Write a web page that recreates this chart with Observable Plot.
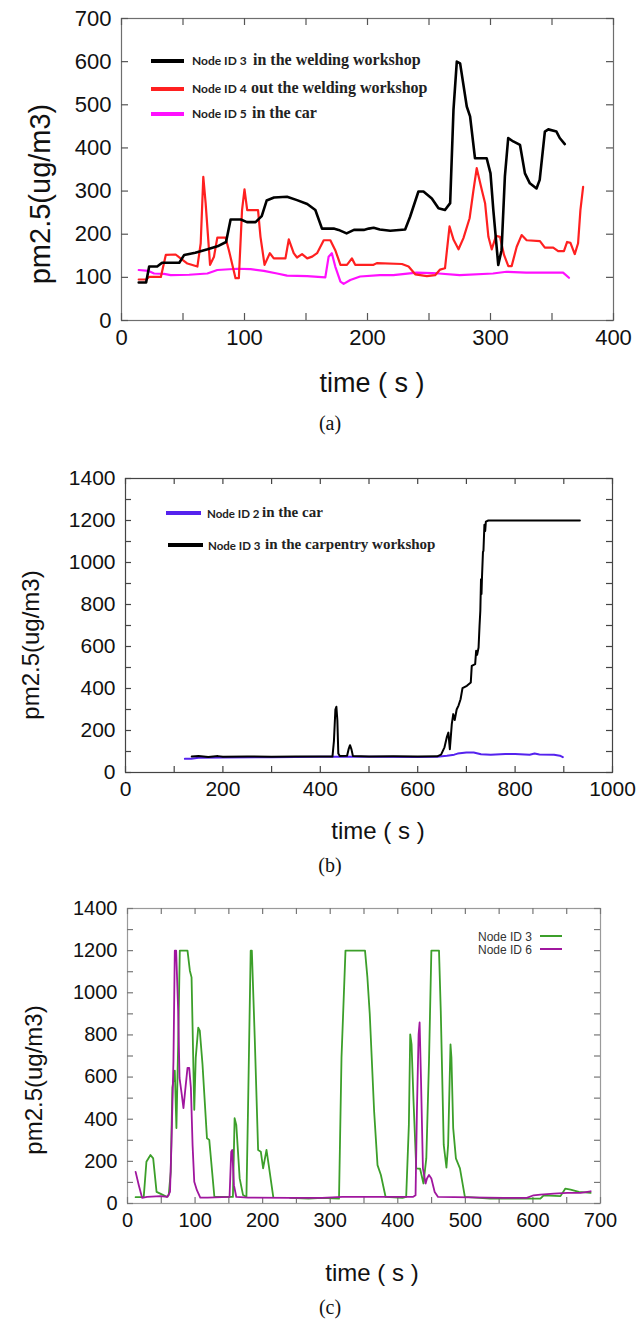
<!DOCTYPE html>
<html><head><meta charset="utf-8">
<script src="https://cdn.jsdelivr.net/npm/d3@7"></script>
<script src="https://cdn.jsdelivr.net/npm/@observablehq/plot@0.6"></script>
<style>
body{margin:0;background:#fff;}
#root{position:relative;width:641px;height:1323px;overflow:hidden;font-family:"Liberation Sans",Arial,sans-serif;color:#111;}
.panel{position:absolute;left:0;}
.lbl{position:absolute;white-space:nowrap;transform:translate(-50%,-50%);}
.ylbl{transform:translate(-50%,-50%) rotate(-90deg);}
.cap{font-family:"Liberation Serif",serif;font-size:20px;}
.sw{position:absolute;}
.lg{position:absolute;white-space:nowrap;transform:translateY(-50%);line-height:1;}
.nid{font-family:Lato,"Open Sans",sans-serif;font-weight:700;color:#222;}
.desc{font-family:"Liberation Serif",serif;font-weight:700;color:#222;}
</style></head>
<body><div id="root"></div>
<script>
// ---------- Panel (a): welding workshop ----------
const aNode3 = [[14,88],[20,88],[22.5,125],[29,125],[33,134],[47,134],[51,152],[60,157],[70,165],[78,172],[85,182],[88.7,234],[97,234],[102,228],[109,228],[114,242],[118,278],[124,285],[134.6,287],[142.7,279],[151,270],[157.6,256],[163,213],[172.5,213],[176.5,210],[183,202],[189,210],[197,210],[201,213],[205,215],[210,211],[218.5,208],[230.6,211],[234.7,241],[241.4,299],[245.5,299],[252.3,283],[257.7,260],[263,256],[267.2,272],[269.9,488],[272.6,600],[275.3,596],[280.7,496],[283.4,473],[287.4,376],[296.9,376],[300,341],[302.3,256],[306.3,129],[309,163],[311.7,334],[314.4,423],[318.5,415],[324,407],[328,341],[332,318],[337.4,306],[340,326],[344.2,438],[347,443],[353.6,438],[356.3,423],[360.4,409]];
const aNode4 = [[14,95],[20,95],[22.5,101],[32,101],[36,152],[44,153],[48,144],[53.6,132],[61.7,125],[64.4,179],[66.5,333],[68.4,272],[72,129],[75.2,148],[77.9,192],[84.6,192],[87.3,163],[92.7,98],[95.4,98],[98,256],[100,304],[102.2,256],[111,256],[113,194],[116.3,129],[120.6,156],[123.8,144],[133.3,144],[136,188],[140,156],[142.7,146],[146.8,154],[151,144],[155,148],[159,156],[164.4,186],[169.8,186],[173.8,163],[178,129],[183.3,129],[187.3,144],[190,129],[204.9,129],[207.6,133],[228,131],[233.4,125],[238.8,107],[248.3,103],[255,105],[259,118],[263,121],[266.7,218],[270,187],[274,165],[278,191],[283,237],[286,299],[288.8,353],[293,302],[295.6,272],[298.3,194],[301,165],[304.5,196],[307.7,194],[311,152],[314.5,126],[317.2,126],[321.3,171],[325.3,198],[329.4,186],[340.2,184],[344.2,169],[351,169],[355,161],[359.7,161],[362.3,182],[365,180],[368.5,154],[371.2,179],[373.1,256],[375.3,310]];
const aNode5 = [[14,117],[22,115],[26.5,109],[34.6,108],[40,105],[55,106],[69.8,109],[77.9,117],[94,120],[105,119],[115.7,115],[126.5,109],[134.6,104],[151,103],[165.7,100],[168.4,148],[171,156],[173.8,125],[178,90],[180.6,85],[186,94],[194,102],[210,105],[221,105],[240,111],[258,109],[275,105],[302,109],[313,113],[329,111],[359,111],[363.8,99]];
const aXLabels = [0,100,200,300,400];
const aXTicks = [0,50,100,150,200,250,300,350,400];
const aYLabels = [0,100,200,300,400,500,600,700];

// ---------- Panel (b): carpentry workshop ----------
const bNode2 = [[122,65],[135,66],[150,70],[200,72],[300,73],[400,75],[500,75],[600,74],[640,75],[660,80],[675,85],[682,90],[700,95],[715,95],[730,87],[750,85],[780,88],[800,88],[830,85],[840,90],[850,86],[880,85],[892,80],[898,73]];
const bNode3 = [[136,76],[150,78],[170,74],[190,78],[200,75],[250,76],[300,75],[350,76],[400,76],[425,76],[428,150],[431,300],[433,313],[435,250],[437,90],[440,78],[455,80],[458,110],[461,130],[464,110],[467,78],[500,76],[550,77],[600,76],[640,77],[648,85],[655,120],[660,170],[663,190],[666,111],[670,230],[673,278],[676,250],[680,300],[684,320],[688,349],[692,402],[701,413],[709,429],[711,508],[718,516],[720,580],[722,560],[725,595],[727,700],[728.6,770],[730,920],[731,850],[732,929],[734,1050],[735,1055],[737,1180],[738.6,1150],[740,1195],[745,1200],[933,1200]];
const bXLabels = [0,200,400,600,800,1000];
const bXTicks = [0,100,200,300,400,500,600,700,800,900,1000];
const bYLabels = [0,200,400,600,800,1000,1200,1400];
const bYTicks = [0,100,200,300,400,500,600,700,800,900,1000,1100,1200,1300,1400];

// ---------- Panel (c) ----------
const cNode3 = [[12,30],[24,30],[28,198],[34,230],[38,214],[43,55],[51.5,42],[58,32],[61,40],[64,150],[66.4,550],[70,630],[72.4,358],[75,755],[77.4,1200],[88.8,1200],[92.3,1105],[94.8,1073],[98.8,445],[101,692],[104.7,835],[107,820],[111,660],[117.6,310],[121,302],[128.6,31],[148.5,31],[156,31],[158.5,405],[161,373],[166,119],[171,40],[176,31],[178.3,437],[182.3,1200],[184,1200],[188.3,787],[193.3,254],[197.3,246],[200.7,167],[205.7,254],[209,182],[215.7,31],[228,null],[240.5,27],[268,23],[288,27],[313,23],[316.7,692],[322.6,1200],[351.5,1200],[355,1074],[358.5,900],[365,437],[370,182],[375,135],[382,31],[407,27],[412.4,31],[416.4,373],[418.4,803],[420.4,755],[423.3,485],[427.3,167],[433,165],[438,95],[442.2,214],[446.2,676],[449.7,1200],[461,1200],[463.6,915],[468,278],[472,170],[474.5,278],[478,755],[479.4,692],[482,358],[486,214],[492,167],[499.3,31],[536.5,23],[557,23],[591,23],[611,23],[616,39],[640.8,35],[648,71],[655.7,66],[668,55],[685.5,50]];
const cNode6 = [[12,150],[16.7,87],[21.6,27],[29,31],[49,35],[59,31],[62.9,55],[65,278],[68,676],[70,1200],[72,1200],[75,915],[77,596],[80,525],[82.8,453],[85.3,533],[88.8,644],[91.3,644],[93.8,549],[96.3,278],[98.8,103],[102.7,63],[107.7,28],[118.6,28],[151,31],[153.5,246],[155,254],[157.5,87],[161,31],[178.4,28],[240,27],[288,27],[318,31],[407,31],[422.3,31],[426.3,39],[428.3,437],[430.8,803],[432.3,859],[434.3,596],[437.2,167],[441.2,95],[443.2,119],[446.2,135],[449.7,119],[454.6,55],[459.6,31],[556.4,27],[591,27],[601,39],[611,42],[631,47],[650.7,50],[670.6,50],[685.5,58]];
const cXLabels = [0,100,200,300,400,500,600,700];
const cXTicks = [0,50,100,150,200,250,300,350,400,450,500,550,600,650,700];
const cYLabels = [0,200,400,600,800,1000,1200,1400];
const cYTicks = bYTicks;

const toRows = arr => arr.map(([t, v]) => ({t, v}));

function makePanel(o) {
  const [x0, x1] = o.xDomain, [y0, y1] = o.yDomain;
  const tk = {stroke: o.tick, strokeWidth: 1.2};
  const L = o.tl;
  const marks = [
    Plot.frame({stroke: o.frame, strokeWidth: 1.2}),
    // inward tick marks on all four sides
    Plot.ruleX(o.xTicks, {x: d => d, y1: y0, y2: y0, insetBottom: L, ...tk}),
    Plot.ruleX(o.xTicks, {x: d => d, y1: y1, y2: y1, insetTop: L, ...tk}),
    Plot.ruleY(o.yTicks, {y: d => d, x1: x0, x2: x0, insetLeft: L, ...tk}),
    Plot.ruleY(o.yTicks, {y: d => d, x1: x1, x2: x1, insetRight: L, ...tk}),
    Plot.axisX({anchor: "bottom", ticks: o.xLabels, tickSize: 0, tickPadding: 9, fontSize: o.fs, label: null, fill: "#111", tickFormat: d => String(d)}),
    Plot.axisY({anchor: "left", ticks: o.yLabels, tickSize: 0, tickPadding: 10, fontSize: o.fs, label: null, fill: "#111", tickFormat: d => String(d)}),
    ...o.series.map(s => Plot.line(toRows(s.data), {x: "t", y: "v", stroke: s.color, strokeWidth: s.w, strokeLinejoin: "round"}))
  ];
  const svg = Plot.plot({
    width: 641, height: o.height,
    marginTop: o.m[0], marginRight: o.m[1], marginBottom: o.m[2], marginLeft: o.m[3],
    x: {domain: o.xDomain}, y: {domain: o.yDomain},
    style: {fontFamily: '"Liberation Sans", Arial, sans-serif', background: "transparent", overflow: "visible", color: "#111"},
    marks
  });
  const wrap = document.createElement("div");
  wrap.className = "panel";
  wrap.style.top = o.top + "px";
  wrap.appendChild(svg);
  root.appendChild(wrap);
}

const root = document.getElementById("root");
function addText(html, cls, style) {
  const d = document.createElement("div");
  d.className = cls;
  d.innerHTML = html;
  Object.assign(d.style, style);
  root.appendChild(d);
}
function addSwatch(left, width, cy, h, color) {
  const d = document.createElement("div");
  d.className = "sw";
  Object.assign(d.style, {left: left + "px", width: width + "px", top: (cy - h / 2) + "px", height: h + "px", background: color});
  root.appendChild(d);
}

// Panel a
makePanel({top: 0, height: 400, m: [18, 28, 80, 121], xDomain: [0, 400], yDomain: [0, 700],
  xTicks: aXTicks, xLabels: aXLabels, yTicks: aYLabels, yLabels: aYLabels, frame: "#6e6e6e", tick: "#555", tl: 7, fs: 22,
  series: [
    {data: aNode5, color: "#ff10ff", w: 2.2},
    {data: aNode4, color: "#ff2020", w: 2.2},
    {data: aNode3, color: "#000000", w: 2.6}
  ]});
addText("pm2.5(ug/m3)", "lbl ylbl", {left: "40px", top: "194px", fontSize: "29px"});
addText("time ( s )", "lbl", {left: "372px", top: "383px", fontSize: "27px"});
addText("(a)", "lbl cap", {left: "330px", top: "423px"});
const aLegend = [["Node ID 3", "in the welding workshop", "#000", 61, 253], ["Node ID 4", "out the welding workshop", "#ff2020", 89, 251], ["Node ID 5", "in the car", "#ff10ff", 114, 252]];
aLegend.forEach(([id, desc, col, y, dx]) => {
  addSwatch(151, 33, y, 3.5, col);
  addText(id, "lg nid", {left: "192px", top: y + "px", fontSize: "12px"});
  addText(desc, "lg desc", {left: dx + "px", top: (y - 1) + "px", fontSize: "16px"});
});

// Panel b
makePanel({top: 460, height: 400, m: [18, 29, 88, 125], xDomain: [0, 1000], yDomain: [0, 1400],
  xTicks: bXTicks, xLabels: bXLabels, yTicks: bYTicks, yLabels: bYLabels, frame: "#444", tick: "#444", tl: 6, fs: 21,
  series: [
    {data: bNode2, color: "#5522ee", w: 2},
    {data: bNode3, color: "#000000", w: 2}
  ]});
addText("pm2.5(ug/m3)", "lbl ylbl", {left: "31px", top: "645px", fontSize: "24px"});
addText("time ( s )", "lbl", {left: "378px", top: "831px", fontSize: "24px"});
addText("(b)", "lbl cap", {left: "330px", top: "865px"});
const bLegend = [["Node ID 2", "in the car", "#5522ee", 513, 166, 207, 262], ["Node ID 3", "in the carpentry workshop", "#000", 545, 168, 208, 265]];
bLegend.forEach(([id, desc, col, y, sx, ix, dx]) => {
  addSwatch(sx, 35, y, 4, col);
  addText(id, "lg nid", {left: ix + "px", top: (y + 1) + "px", fontSize: "11.5px"});
  addText(desc, "lg desc", {left: dx + "px", top: (y - 1) + "px", fontSize: "15px"});
});

// Panel c
makePanel({top: 890, height: 400, m: [18, 41, 87, 127], xDomain: [0, 700], yDomain: [0, 1400],
  xTicks: cXTicks, xLabels: cXLabels, yTicks: cYTicks, yLabels: cYLabels, frame: "#9a9a9a", tick: "#777", tl: 6, fs: 20,
  series: [
    {data: cNode3, color: "#3c9f2a", w: 1.8},
    {data: cNode6, color: "#a0169e", w: 1.8}
  ]});
addText("pm2.5(ug/m3)", "lbl ylbl", {left: "34px", top: "1080px", fontSize: "24px"});
addText("time ( s )", "lbl", {left: "372px", top: "1273px", fontSize: "24px"});
addText("(c)", "lbl cap", {left: "330px", top: "1307px"});
const cLegend = [["Node ID 3", "#3c9f2a", 937], ["Node ID 6", "#a0169e", 950]];
cLegend.forEach(([id, col, y]) => {
  addText(id, "lg", {right: "109px", top: y + "px", fontSize: "12px", color: "#333"});
  addSwatch(540, 22, y - 1, 2.2, col);
});
</script>
</body></html>
